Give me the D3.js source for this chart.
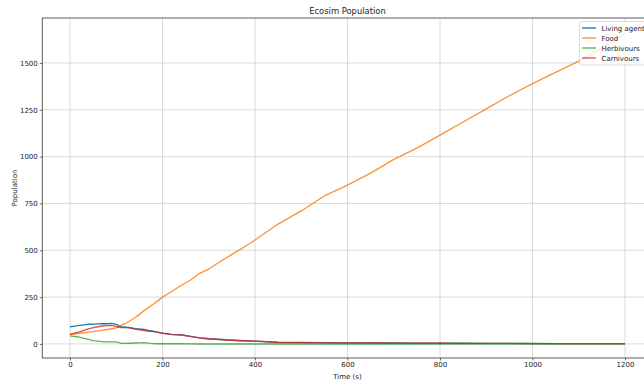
<!DOCTYPE html>
<html>
<head>
<meta charset="utf-8">
<script src="https://cdn.jsdelivr.net/npm/d3@7"></script>
<style>
  body { margin: 0; background: #fff; }
  text { font-family: "DejaVu Sans", sans-serif; fill: #222; }
</style>
</head>
<body>
<div id="chart_container"></div>
<script>
const times = [0, 10, 20, 30, 40, 50, 60, 70, 80, 90, 100, 110, 120, 130, 140, 150, 160, 170, 180, 190,
    200, 220, 240, 260, 280, 300, 325, 350, 375, 400, 450, 500, 550, 600, 650, 700, 750, 800,
    850, 900, 950, 1000, 1050, 1100, 1150, 1200]
const livingAgents = [92, 95, 99, 102, 105, 106, 107, 108, 108, 110, 104, 92, 90, 87, 82, 80, 78, 72, 68, 63,
    58, 51, 49, 40, 32, 28, 24, 20, 17, 15, 9, 8, 7, 6, 5, 5, 4, 4,
    4, 3, 3, 3, 2, 2, 2, 2]
const food = [50, 53, 57, 60, 63, 66, 70, 74, 77, 81, 86, 100, 108, 124, 140, 158, 178, 195, 212, 230,
    250, 280, 312, 340, 377, 400, 440, 478, 515, 555, 640, 710, 790, 848, 912, 985, 1045, 1115,
    1185, 1255, 1325, 1390, 1450, 1510, 1580, 1655]
const herbivours = [43, 40, 36, 30, 24, 18, 15, 12, 11, 11, 11, 4, 3, 4, 5, 6, 7, 4, 2, 1,
    1, 1, 1, 0, 0, 0, 0, 0, 0, 0, 0, 0, 0, 0, 0, 0, 0, 0,
    0, 0, 0, 0, 0, 0, 0, 0]
const carnivours = [52, 58, 64, 72, 80, 87, 92, 96, 98, 99, 92, 88, 87, 85, 80, 75, 72, 68, 66, 62,
    57, 50, 48, 40, 32, 28, 24, 20, 17, 15, 8, 7, 6, 5, 5, 4, 4, 4,
    3, 3, 3, 2, 2, 2, 2, 2]
const xTicks = [0, 200, 400, 600, 800, 1000, 1200]
const yTicks = [0, 250, 500, 750, 1000, 1250, 1500]

const seriesNames = ["Living agents", "Food", "Herbivours", "Carnivours"]
const seriesColors = ["#1f77b4", "#ff7f0e", "#2ca02c", "#d62728"]
const seriesAlpha = [1, 0.85, 0.8, 0.8]

let width = 644, height = 383;
let plotLeft = 42.25, plotRight = 652.75, plotTop = 18, plotBottom = 358;

let svg = d3.select("#chart_container").append("svg").attr("width", width).attr("height", height);

let x = d3.scaleLinear().domain([-60, 1260]).range([plotLeft, plotRight]);
let y = d3.scaleLinear().domain([-75, 1740]).range([plotBottom, plotTop]);

// grid
svg.append("g").selectAll("line").data(xTicks).join("line")
    .attr("x1", d => x(d)).attr("x2", d => x(d)).attr("y1", plotTop).attr("y2", plotBottom)
    .attr("stroke", "#d0d0d0").attr("stroke-width", 0.8);
svg.append("g").selectAll("line").data(yTicks).join("line")
    .attr("x1", plotLeft).attr("x2", plotRight).attr("y1", d => y(d)).attr("y2", d => y(d))
    .attr("stroke", "#d0d0d0").attr("stroke-width", 0.8);

// axes
let xAxis = svg.append("g").attr("transform", `translate(0,${plotBottom})`)
    .call(d3.axisBottom(x).tickValues(xTicks).tickSize(2.5).tickPadding(2).tickFormat(d3.format("d")));
let yAxis = svg.append("g").attr("transform", `translate(${plotLeft},0)`)
    .call(d3.axisLeft(y).tickValues(yTicks).tickSize(2.5).tickPadding(2).tickFormat(d3.format("d")));
[xAxis, yAxis].forEach(a => {
    a.select(".domain").remove();
    a.selectAll("line").attr("stroke", "#333").attr("stroke-width", 0.7);
    a.selectAll("text").attr("font-family", "DejaVu Sans").attr("font-size", 7).attr("fill", "#222");
});

// spines
svg.append("rect").attr("x", plotLeft).attr("y", plotTop).attr("width", plotRight - plotLeft).attr("height", plotBottom - plotTop)
    .attr("fill", "none").attr("stroke", "#333").attr("stroke-width", 0.8);

// lines
let allSeries = [livingAgents, food, herbivours, carnivours];
let line = d3.line().x((d, i) => x(times[i])).y(d => y(d));
svg.append("g").selectAll("path").data(allSeries).join("path")
    .attr("d", line)
    .attr("fill", "none")
    .attr("stroke", (d, i) => seriesColors[i])
    .attr("stroke-opacity", (d, i) => seriesAlpha[i])
    .attr("stroke-width", 1.35)
    .attr("stroke-linejoin", "round");

// labels
svg.append("text").text("Ecosim Population").attr("x", (plotLeft + plotRight) / 2).attr("y", 14)
    .attr("text-anchor", "middle").attr("font-size", 8.4);
svg.append("text").text("Time (s)").attr("x", (plotLeft + plotRight) / 2).attr("y", 379)
    .attr("text-anchor", "middle").attr("font-size", 7);
svg.append("text").text("Population").attr("transform", `translate(17,${(plotTop + plotBottom) / 2}) rotate(-90)`)
    .attr("text-anchor", "middle").attr("font-size", 7);

// legend
let legend = svg.append("g").attr("transform", "translate(579.5,21.5)");
legend.append("rect").attr("width", 70).attr("height", 43.5).attr("rx", 2)
    .attr("fill", "#fff").attr("fill-opacity", 0.8).attr("stroke", "#ccc").attr("stroke-width", 0.7);
let rows = legend.selectAll("g").data(seriesNames).join("g")
    .attr("transform", (d, i) => `translate(0,${6.5 + i * 10})`);
rows.append("line").attr("x1", 2.5).attr("x2", 16.5).attr("y1", 0).attr("y2", 0)
    .attr("stroke", (d, i) => seriesColors[i]).attr("stroke-opacity", (d, i) => seriesAlpha[i])
    .attr("stroke-width", 1.35);
rows.append("text").text(d => d).attr("x", 22).attr("y", 2.5).attr("font-size", 7);
</script>
</body>
</html>
